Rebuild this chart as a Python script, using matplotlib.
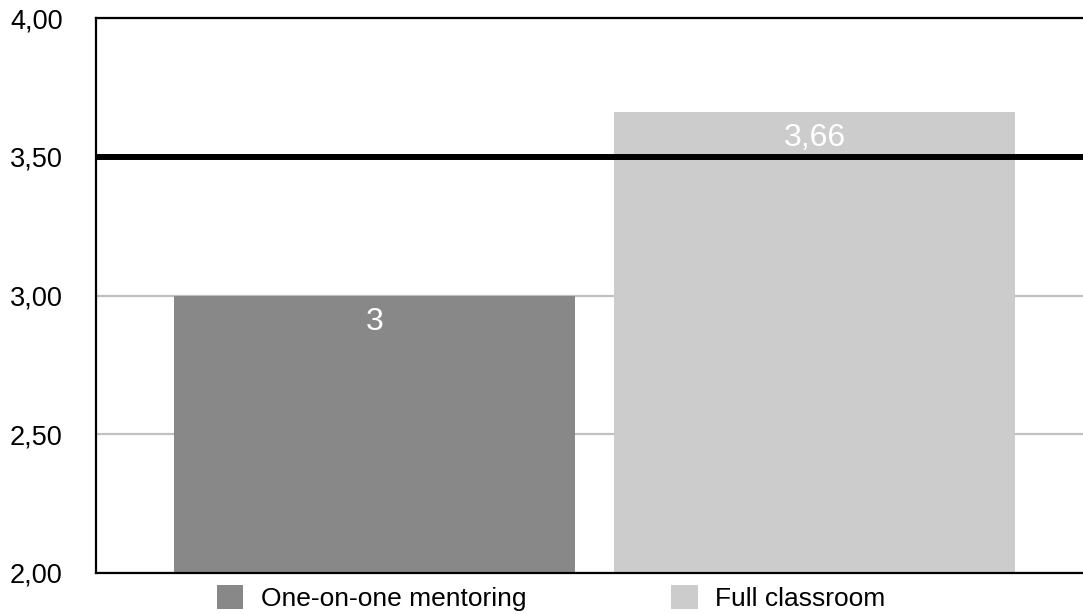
"""Bar chart: mean score by teaching format, with 3.50 target line."""
import matplotlib.pyplot as plt
from matplotlib.patches import Patch
from matplotlib.ticker import FuncFormatter

plt.rcParams["font.family"] = ["Liberation Sans", "DejaVu Sans"]

categories = ["One-on-one mentoring", "Full classroom"]
scores = [3.0, 3.66]
score_labels = ["3", "3,66"]
colors = ["#888888", "#cccccc"]
target = 3.5
yticks = [2.0, 2.5, 3.0, 3.5, 4.0]

W, H = 1083, 614
fig = plt.figure(figsize=(W / 100, H / 100), dpi=100)
ax = fig.add_axes([96 / W, 1 - 573 / H, 1 - 96 / W, (573 - 18) / H])

x = list(range(len(categories)))
bars = ax.bar(x, scores, width=0.911, color=colors, zorder=2)

for bar, text in zip(bars, score_labels):
    ax.annotate(text, (bar.get_x() + bar.get_width() / 2, bar.get_height()),
                xytext=(0, -24.5), textcoords="offset points",
                ha="center", va="baseline", color="white", fontsize=23, zorder=4)

ax.axhline(target, color="black", linewidth=4.3, zorder=3)

ax.set_ylim(2.0, 4.0)
ax.set_xlim(-0.633, 1.61)
ax.set_yticks(yticks)
ax.yaxis.set_major_formatter(FuncFormatter(lambda v, _: f"{v:.2f}".replace(".", ",")))
ax.tick_params(axis="y", length=0, pad=24, labelsize=19.5)
ax.set_xticks([])
ax.grid(axis="y", color="#c0c0c0", linewidth=1.6, zorder=0)
ax.set_axisbelow(True)

for side in ("left", "bottom", "top"):
    ax.spines[side].set_linewidth(1.6)
    ax.spines[side].set_color("black")
ax.spines["right"].set_visible(False)

handles = [Patch(facecolor=c, edgecolor="none") for c in colors]
fig.legend(handles, categories, loc="center left", ncol=2, frameon=False,
           bbox_to_anchor=(217 / W, 1 - 598 / H), fontsize=19,
           handlelength=1.0, handleheight=1.0, handletextpad=0.65,
           columnspacing=5.5, borderpad=0, borderaxespad=0)

fig.savefig("out.png", dpi=100)
